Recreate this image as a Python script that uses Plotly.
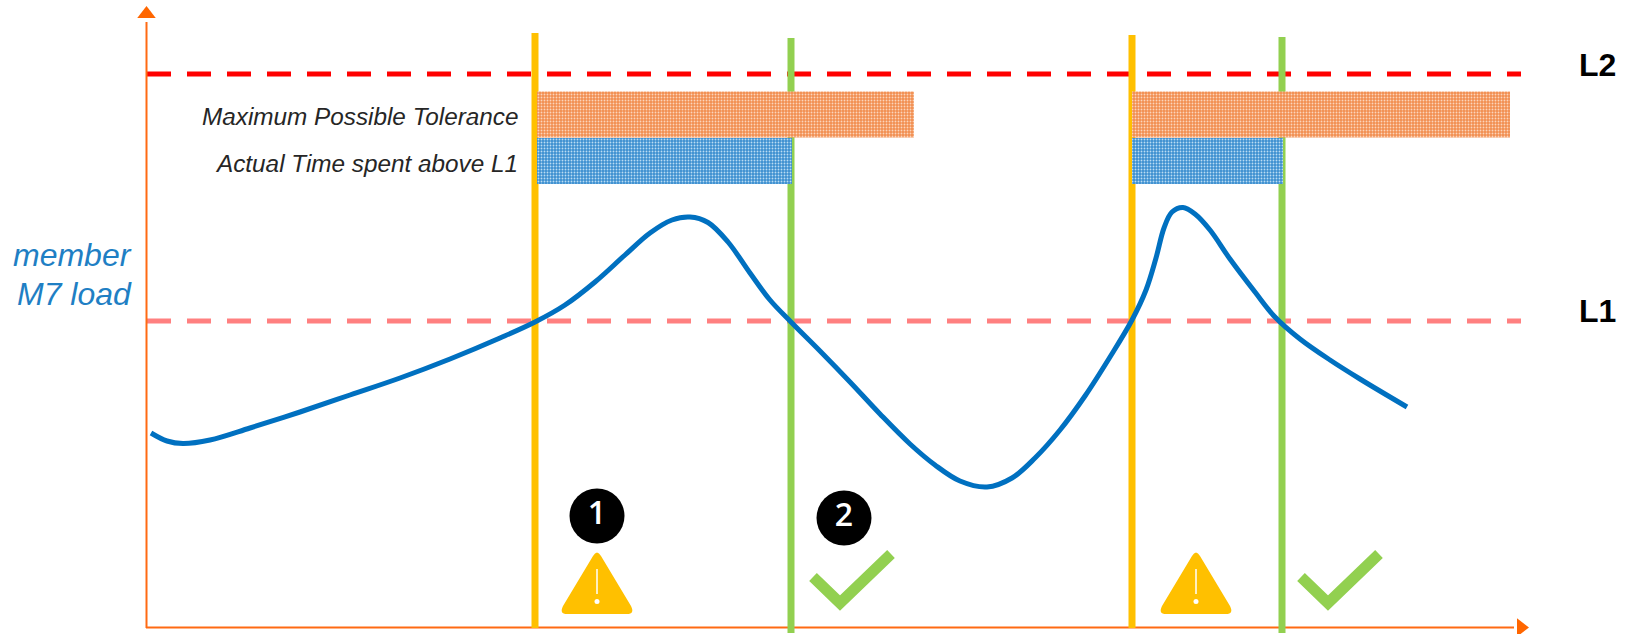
import plotly.graph_objects as go

load_x = [151, 167, 183, 210, 250, 300, 350, 400, 450, 500, 535, 565, 595, 625, 650, 672, 690, 708, 728, 750, 770, 791,
          820, 850, 880, 910, 935, 960, 987, 1012, 1035, 1060, 1085, 1110, 1132, 1146, 1156, 1164, 1172, 1183, 1195,
          1210, 1230, 1255, 1275, 1300, 1330, 1360, 1407]
load_y = [433, 441, 443.5, 440, 428, 412, 395, 378, 359, 338, 322, 305, 282, 255, 233, 220, 217, 222.5, 242, 273, 300, 322,
          351, 382, 414, 444, 465, 481, 487, 478, 458, 430, 396, 357, 320, 290, 258, 228, 212, 207.5, 214,
          230, 259, 292, 317, 339, 360, 379, 407]

l2_y = 74
l1_y = 321
orange_x = [535, 1132]
green_x = [791, 1282]
tolerance_end = [914, 1510]
actual_end = [791, 1282]
warn_x = [597, 1196]
check_x = [813, 1301]
badge_x = [597, 844]
badge_y = [516, 518]
badge_text = ["1", "2"]

AXIS = "#FF6A13"
BLUE = "#0070C0"
ORANGE = "#FFC000"
GREEN = "#92D050"

shapes = []


def line(x0, y0, x1, y1, color, width, dash="solid"):
    shapes.append(dict(type="line", x0=x0, y0=y0, x1=x1, y1=y1, layer="below",
                       line=dict(color=color, width=width, dash=dash)))


line(147, l2_y, 1521, l2_y, "#FF0000", 5, "24px,16px")
line(147, l1_y, 1521, l1_y, "#FF8080", 5, "24px,16px")
line(146.5, 22, 146.5, 628, AXIS, 2)
line(146, 627.5, 1514, 627.5, AXIS, 2)
line(orange_x[0], 33, orange_x[0], 628, ORANGE, 7)
line(orange_x[1], 35, orange_x[1], 628, ORANGE, 7)
line(green_x[0], 38, green_x[0], 633, GREEN, 7)
line(green_x[1], 37, green_x[1], 633, GREEN, 7)

# warning triangles and ticks
for x in warn_x:
    p = (f"M{x-4},{553+3} Q{x},{549} {x+4},{556} L{x+34},{606} Q{x+38},{614} {x+30},{614} "
         f"L{x-30},{614} Q{x-38},{614} {x-34},{606} Z")
    shapes.append(dict(type="path", path=p, fillcolor=ORANGE, line=dict(width=0), layer="above"))
    shapes.append(dict(type="line", x0=x, y0=569, x1=x, y1=594, layer="above", line=dict(color="white", width=1.5)))
    shapes.append(dict(type="circle", x0=x-2.5, y0=599, x1=x+2.5, y1=604, fillcolor="white", line=dict(width=0),
                       layer="above"))
for x in check_x:
    p = f"M{x},577 L{x+27},603 L{x+78},554"
    shapes.append(dict(type="path", path=p, line=dict(color=GREEN, width=11), layer="above"))

fig = go.Figure()

# dithered bars
for i in range(2):
    start = orange_x[i] + (2 if i == 0 else 0)
    fig.add_trace(go.Bar(orientation="h", y=[114.5], x=[tolerance_end[i] - start],
                         base=[start], width=[46],
                         marker=dict(color="rgba(0,0,0,0)", line=dict(width=0),
                                     pattern=dict(shape=".", size=3, solidity=0.3, fgcolor="#FBD5BC", bgcolor="#F28E4F",
                                                  fillmode="replace"))))
    fig.add_trace(go.Bar(orientation="h", y=[161], x=[actual_end[i] - start + 1],
                         base=[start], width=[46],
                         marker=dict(color="rgba(0,0,0,0)", line=dict(width=0),
                                     pattern=dict(shape=".", size=3, solidity=0.3, fgcolor="#BBDCF3", bgcolor="#3B8FD0",
                                                  fillmode="replace"))))

fig.add_trace(go.Scatter(x=load_x, y=load_y, mode="lines", line=dict(color=BLUE, width=5, shape="spline", smoothing=1)))

# axis arrow heads
fig.add_trace(go.Scatter(x=[146.5], y=[14], mode="markers",
                         marker=dict(symbol="triangle-up", size=16, color="#FF6600")))
fig.add_trace(go.Scatter(x=[1521], y=[627.5], mode="markers",
                         marker=dict(symbol="triangle-right", size=16, color="#FF6600")))

fig.add_trace(go.Scatter(x=badge_x, y=badge_y, mode="markers+text", text=badge_text, textposition="middle center",
                         marker=dict(size=55, color="black"),
                         textfont=dict(family="Open Sans", size=32, color="white", weight=600)))

anno = [
    dict(x=520, y=116.5, text="Maximum Possible Tolerance", xanchor="right", font=dict(size=24.3, color="#262626")),
    dict(x=520, y=163.5, text="Actual Time spent above L1", xanchor="right", font=dict(size=24.3, color="#262626")),
    dict(x=134, y=255, text="member", xanchor="right", font=dict(size=32, color="#1F7FC4")),
    dict(x=134, y=293.5, text="M7 load", xanchor="right", font=dict(size=32, color="#1F7FC4")),
    dict(x=1577, y=65, text="<b>L2</b>", xanchor="left", font=dict(size=32, color="black")),
    dict(x=1577, y=311, text="<b>L1</b>", xanchor="left", font=dict(size=32, color="black")),
]
for a in anno:
    a.update(showarrow=False, yanchor="middle", xref="x", yref="y")
    if "<b>" not in a["text"]:
        a["text"] = "<i>" + a["text"] + "</i>"
    a["font"]["family"] = "Liberation Sans"

fig.update_layout(
    shapes=shapes, annotations=anno, showlegend=False, barmode="overlay",
    width=1633, height=634,
    plot_bgcolor="white", paper_bgcolor="white",
    margin=dict(l=0, r=0, t=0, b=0),
    xaxis=dict(range=[0, 1633], visible=False, fixedrange=True),
    yaxis=dict(range=[634, 0], visible=False, fixedrange=True),
)

# page has a default body margin, drop it so the picture sits at 0,0
fig.write_html("out.html", config={"displayModeBar": False},
               post_script="document.body.style.margin='0';document.body.style.overflow='hidden';")
